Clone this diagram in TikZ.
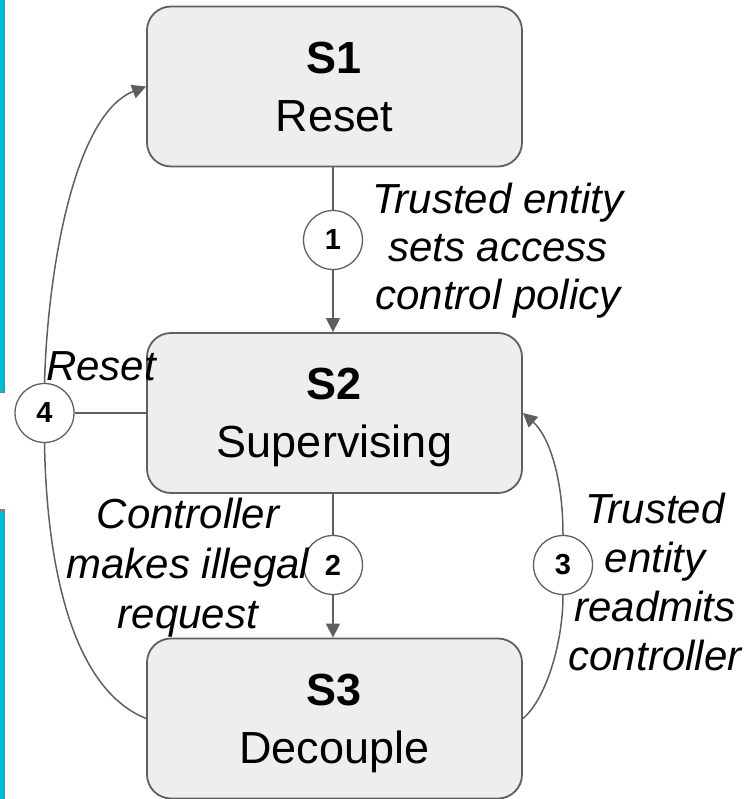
\documentclass[tikz,border=0pt]{standalone}
\usepackage{fontspec}
\setmainfont{Liberation Sans}
\usetikzlibrary{arrows.meta}
\definecolor{linegray}{RGB}{95,95,95}
\definecolor{boxfill}{RGB}{238,238,238}
\definecolor{barcyan}{RGB}{0,188,212}
\begin{document}
\begin{tikzpicture}[x=1pt,y=1pt,
  state/.style={draw=linegray, line width=1.8pt, fill=boxfill, rounded corners=24pt,
    minimum width=375pt, minimum height=160pt, inner sep=0pt, align=center,
    font=\fontsize{45}{58}\selectfont, text depth=0pt},
  num/.style={circle, draw=linegray, line width=1.3pt, fill=white, minimum size=59pt,
    inner sep=0pt, font=\bfseries\fontsize{29}{32}\selectfont},
  edge/.style={draw=linegray, line width=1.5pt},
  arr/.style={edge, -{Triangle[length=14pt,width=14pt]}},
  lbl/.style={align=center, inner sep=0pt, text depth=0pt},
  bar/.style={fill=barcyan, draw=gray, line width=1.2pt}]
\useasboundingbox (0,0) rectangle (745,-799);
% cyan side bars
\path[bar] (-6,6) rectangle (4,-392);
\path[bar] (-6,-510) rectangle (4,-806);
% states
\node[state] (s1) at (334.5,-86.5) {\textbf{S1}\\Reset};
\node[state] (s2) at (334.5,-413) {\textbf{S2}\\Supervising};
\node[state] (s3) at (334.5,-718.5) {\textbf{S3}\\Decouple};
% numbered circles
\node[num] (c1) at (333,-240) {1};
\node[num] (c2) at (333,-565) {2};
\node[num] (c3) at (563,-565) {3};
\node[num] (c4) at (44.5,-413) {4};
% transition 1
\draw[edge] (c1.north |- s1.south) -- (c1.north);
\draw[arr] (c1.south) -- (c1.south |- s2.north);
% transition 2
\draw[edge] (c2.north |- s2.south) -- (c2.north);
\draw[arr] (c2.south) -- (c2.south |- s3.north);
% transition 3
\draw[edge] (s3.east) .. controls +(22,18) and +(0,-50) .. (c3.south);
\draw[arr] (c3.north) .. controls +(0,60) and +(25,-22) .. (s2.east);
% transition 4
\draw[edge] (c4.east) -- (s2.west);
\draw[edge] (c4.south) .. controls +(2,-120) and +(-75,30) .. (s3.west);
\draw[arr] (c4.north) .. controls +(3,112) and +(-72,-28) .. (s1.west);
% labels
\node[lbl, font=\itshape\fontsize{42}{48}\selectfont] (l1) at (498,-246)
  {Trusted entity\\sets access\\control policy};
\node[lbl, font=\itshape\fontsize{42}{50}\selectfont] (l2) at (188,-563)
  {Controller\\makes illegal\\request};
\node[lbl, font=\itshape\fontsize{42}{49}\selectfont] (l3) at (655,-582)
  {Trusted\\entity\\readmits\\controller};
\node[lbl, font=\itshape\fontsize{42}{49}\selectfont, anchor=base] (l4) at (101,-380) {Reset};
\end{tikzpicture}
\end{document}
